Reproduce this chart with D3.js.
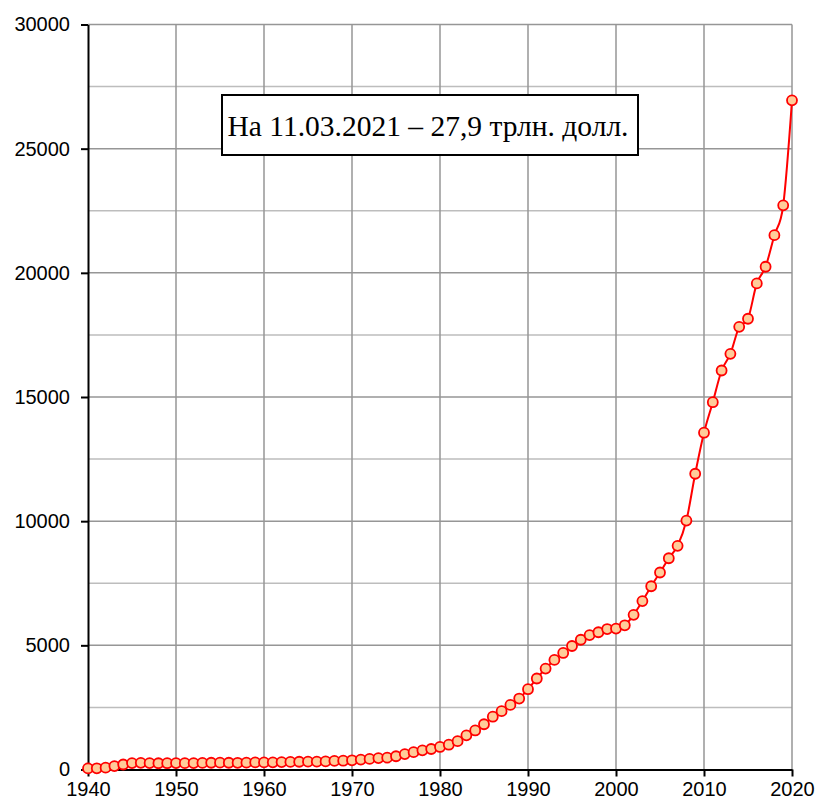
<!DOCTYPE html>
<html><head><meta charset="utf-8">
<script src="https://cdn.jsdelivr.net/npm/d3@7"></script>
<style>body{margin:0;background:#fff}svg{display:block}</style>
</head><body>
<svg id="c" width="817" height="805"></svg>
<script>
const years = d3.range(1940, 2021);
const debt = [42.97,48.96,72.42,136.7,201.0,258.7,269.4,258.3,252.3,252.8,
257.4,255.2,259.1,266.1,271.3,274.4,272.8,270.5,276.3,284.7,
286.3,289.0,298.2,305.9,311.7,317.3,319.9,326.2,347.6,353.7,
370.9,398.1,427.3,458.1,475.1,533.2,620.4,698.8,771.5,826.5,
907.7,997.9,1142.0,1377.2,1572.3,1823.1,2125.3,2350.3,2602.3,2857.4,
3233.3,3665.3,4064.6,4411.5,4692.7,4974.0,5224.8,5413.1,5526.2,5656.3,
5674.2,5807.5,6228.2,6783.2,7379.1,7932.7,8507.0,9007.7,10024.7,11909.8,
13561.6,14790.3,16066.2,16738.2,17824.1,18150.6,19573.4,20244.9,21516.1,22719.4,
26945.4];
const xTicks = [1940,1950,1960,1970,1980,1990,2000,2010,2020];
const yMajor = [0,5000,10000,15000,20000,25000,30000];
const yMinor = [2500,7500,12500,17500,22500,27500];
const note = "На 11.03.2021 – 27,9 трлн. долл.";

const svg = d3.select("#c");
const x = d3.scaleLinear().domain([1940,2020]).range([88,792]);
const y = d3.scaleLinear().domain([0,30000]).range([769.5,24.5]);

// grid
const g = svg.append("g");
g.selectAll(".mn").data(yMinor).join("line")
  .attr("x1",x(1940)).attr("x2",x(2020)).attr("y1",d=>y(d)).attr("y2",d=>y(d))
  .attr("stroke","#bdbdbd").attr("stroke-width",1.5);
g.selectAll(".mj").data(yMajor.slice(1)).join("line")
  .attr("x1",x(1940)).attr("x2",x(2020)).attr("y1",d=>y(d)).attr("y2",d=>y(d))
  .attr("stroke","#969696").attr("stroke-width",1.5);
g.selectAll(".vx").data(xTicks.slice(1)).join("line")
  .attr("x1",d=>x(d)).attr("x2",d=>x(d)).attr("y1",y(0)).attr("y2",y(30000))
  .attr("stroke","#969696").attr("stroke-width",1.5);

// axes
const ax = svg.append("g").attr("transform",`translate(0,${y(0)})`)
  .call(d3.axisBottom(x).tickValues(xTicks).tickFormat(d3.format("d")).tickSizeInner(7).tickSizeOuter(0));
const ay = svg.append("g").attr("transform",`translate(${x(1940)},0)`)
  .call(d3.axisLeft(y).tickValues(yMajor).tickFormat(d3.format("d")).tickSizeInner(7).tickSizeOuter(0));
[ax,ay].forEach(a=>{
  a.select(".domain").attr("stroke","#000").attr("stroke-width",2);
  a.selectAll(".tick line").attr("stroke","#000").attr("stroke-width",2);
  a.selectAll("text").attr("font-family","'Liberation Sans',Arial,sans-serif").attr("font-size",20).attr("fill","#000");
});
ax.selectAll("text").attr("dy","0.95em").attr("y",7);
ay.selectAll("text").attr("x",-18);

// line
const pts = years.map((yr,i)=>({yr,v:debt[i]}));
svg.append("path").datum(pts)
  .attr("d", d3.line().x(d=>x(d.yr)).y(d=>y(d.v)).curve(d3.curveCatmullRom.alpha(0)))
  .attr("fill","none").attr("stroke","#ff0000").attr("stroke-width",2);
svg.selectAll(".m").data(pts).join("circle")
  .attr("cx",d=>x(d.yr)).attr("cy",d=>y(d.v)).attr("r",5)
  .attr("fill","#ffcc99").attr("stroke","#ff0000").attr("stroke-width",1.8);

// annotation
svg.append("rect").attr("x",222).attr("y",95).attr("width",416).attr("height",60)
  .attr("fill","#fff").attr("stroke","#000").attr("stroke-width",2);
svg.append("text").attr("x",428).attr("y",126).attr("text-anchor","middle").attr("dominant-baseline","central")
  .attr("font-family","'Liberation Serif','Times New Roman',serif").attr("font-size",29.5).text(note);
</script>
</body></html>
